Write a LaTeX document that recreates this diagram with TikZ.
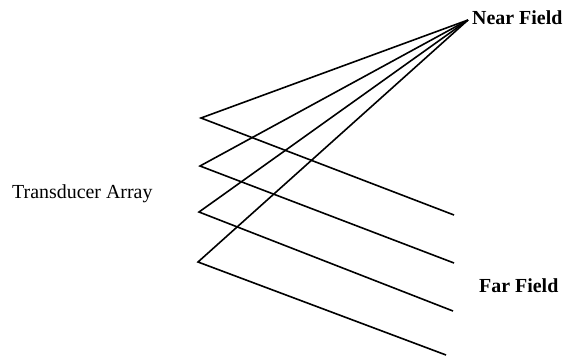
\documentclass[tikz,border=0pt]{standalone}
\usepackage{fontspec}
\setmainfont{Liberation Serif}
\usepackage{tikz}
\usetikzlibrary{positioning,calc}
\definecolor{ln}{HTML}{000000}
\tikzset{
  beam/.style={draw=ln, line width=1.6bp, line join=miter},
  lbl/.style={font=\rmfamily\fontsize{20}{24}\selectfont, inner sep=0pt},
  lblb/.style={lbl, font=\rmfamily\fontsize{20}{24}\selectfont\bfseries}
}

\begin{document}
\begin{tikzpicture}[x=1bp,y=-1bp]
  \useasboundingbox (0,0) rectangle (567,356);
  \coordinate (nf) at (468,20);
  \coordinate (e1) at (201,118);
  \coordinate (e2) at (200,166);
  \coordinate (e3) at (199,212);
  \coordinate (e4) at (198,262);
  \coordinate (f1) at (454,215);
  \coordinate (f2) at (454,263);
  \coordinate (f3) at (453,311);
  \coordinate (f4) at (446,355);
  \foreach \i in {1,...,4}
    \draw[beam] (nf) -- (e\i) -- (f\i);
  \node[lbl, anchor=west] (ta) at (12,194) {Transducer Array};
  \node[lblb, anchor=west] (nl) at (472,18) {Near Field};
  \node[lblb, anchor=west] (fl) at (479,286) {Far Field};
\end{tikzpicture}
\end{document}
